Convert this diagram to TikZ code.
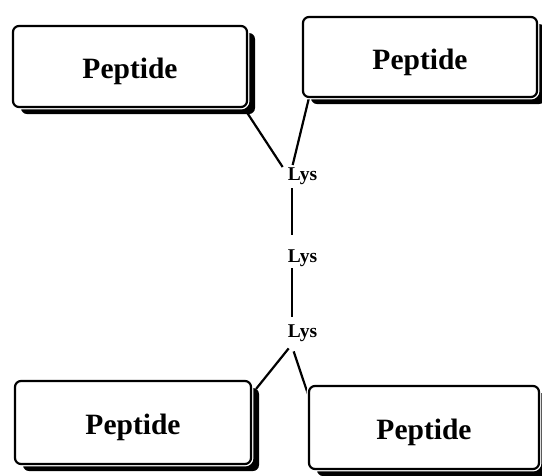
\documentclass[tikz,border=0pt]{standalone}
\usepackage{fontspec}
\setmainfont{Liberation Serif}
\usetikzlibrary{calc,shadows,backgrounds}
\tikzset{
  pepbox/.style={draw=black, line width=2.2pt, fill=white, rounded corners=6pt,
    drop shadow={shadow xshift=8pt, shadow yshift=-7pt, fill=black, opacity=1},
    preaction={draw=white, line width=4.8pt},
    inner sep=0pt, text height=24pt, text depth=0pt,
    font=\fontsize{29.5}{32}\selectfont\bfseries},
  lysnode/.style={inner sep=0pt, anchor=base, font=\fontsize{19.5}{22}\selectfont\bfseries},
  link/.style={draw=black, line width=2.2pt}
}
\begin{document}
\begin{tikzpicture}[x=1pt,y=-1pt]
\useasboundingbox (0,0) rectangle (542,475);
\node[pepbox, minimum width=234pt, minimum height=81pt] (box1) at (130,66.5) {Peptide};
\node[pepbox, minimum width=234pt, minimum height=80pt] (box2) at (420,57) {Peptide};
\node[pepbox, minimum width=236pt, minimum height=83pt] (box3) at (133,422.5) {Peptide};
\node[pepbox, minimum width=230pt, minimum height=83pt] (box4) at (424,427.5) {Peptide};
\node[lysnode] (lys1) at (302.5,180) {Lys};
\node[lysnode] (lys2) at (302.5,262) {Lys};
\node[lysnode] (lys3) at (302.5,337) {Lys};
\begin{scope}[on background layer]
\draw[link] ($(box1.south east)+(-4,0)$) -- ($(lys1.north west)+(-5,0)$);
\draw[link] ($(box2.south west)+(7,0)$) -- ($(lys1.north west)+(5,-2)$);
\draw[link] ($(lys1.south west)+(4,4)$) -- ($(lys2.north west)+(4,-14)$);
\draw[link] ($(lys2.south west)+(4,2)$) -- ($(lys3.north west)+(4,-7)$);
\draw[link] ($(lys3.south west)+(1,7)$) -- ($(box3.north east)+(4,9)$);
\draw[link] ($(lys3.south west)+(6,10)$) -- ($(box4.north west)+(0,9)$);
\end{scope}
\end{tikzpicture}
\end{document}
